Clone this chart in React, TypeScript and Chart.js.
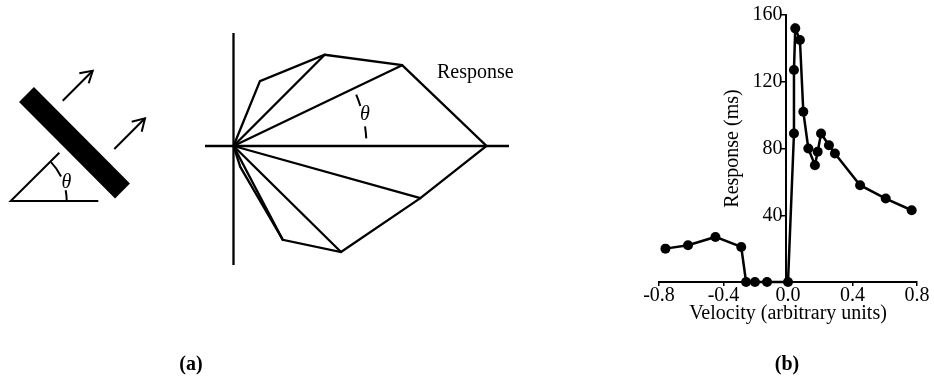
import React, { useEffect, useRef } from "react";
import { Chart, registerables } from "chart.js";

Chart.register(...registerables);

const FONT = "'Liberation Serif', 'Times New Roman', serif";

// ---------- Panel (b): response vs velocity ----------
const velocity = [-0.76, -0.62, -0.45, -0.29, -0.26, -0.205, -0.13, 0, 0.037, 0.037, 0.045, 0.074, 0.095, 0.126, 0.167, 0.184, 0.205, 0.254, 0.291, 0.447, 0.606, 0.767];
const responseMs = [20, 22, 27, 21, 0, 0, 0, 0, 89, 127, 152, 145, 102, 80, 70, 78, 89, 82, 77, 58, 50, 43];
const velocityTicks = [-0.8, -0.4, 0, 0.4, 0.8];
const responseTicks = [40, 80, 120, 160];
const xTitle = "Velocity (arbitrary units)";
const yTitle = "Response (ms)";

// ---------- Panel (a): diagram (figure units) ----------
// moving bar
const barX = [26.5, 122.5];
const barY = [94.5, 191];
// motion arrows (shaft + open head)
const arrow1X = [62.7, 92.7];
const arrow1Y = [100.7, 70.7];
const head1X = [79.3, 92.7, 88.7];
const head1Y = [73.3, 70.7, 83.3];
const arrow2X = [114.3, 145];
const arrow2Y = [149, 118.3];
const head2X = [131.7, 145, 141.7];
const head2Y = [121.7, 118.3, 131.7];
// orientation angle
const angleX = [98.3, 10.7, 59.3];
const angleY = [201, 201, 152.7];
// polar plot axes
const polarOrigin = [233.5, 146];
const vAxisY = [33, 265];
const hAxisX = [205, 509];
// polar response: direction (deg) and response length
const polarAngles = [90, 67.8, 45, 25.6, 0, -15.6, -44.6, -62.3, -72, -90];
const polarResponse = [0, 70, 129, 187, 253, 194, 151, 106, 22, 0];
const spokeIndex = [2, 3, 5, 6, 7];
// theta arcs
const arcCx = [10.7, 10.7, 233.5, 233.5];
const arcCy = [201, 201, 146, 146];
const arcR = [56, 56, 133, 133];
const arcFrom = [44, 11, 22.7, 8.5];
const arcTo = [26, 0, 17.5, 3.3];
// labels of panel (a)
const labelTextA = ["θ", "θ", "Response", "(a)"];
const labelXA = [66.5, 365, 437, 191];
const labelYA = [183, 114.5, 73, 365];
const labelStyleA = ["italic", "italic", "normal", "bold"];
const labelAlignA = ["center", "center", "left", "center"];

const pts = (xs: number[], ys: number[]) => xs.map((x, i) => ({ x, y: ys[i] }));

function polar(i: number) {
  const a = (polarAngles[i] * Math.PI) / 180;
  return {
    x: polarOrigin[0] + polarResponse[i] * Math.cos(a),
    y: polarOrigin[1] - polarResponse[i] * Math.sin(a),
  };
}

export default function App() {
  const refA = useRef<HTMLCanvasElement | null>(null);
  const refB = useRef<HTMLCanvasElement | null>(null);

  useEffect(() => {
    document.body.style.margin = "0";
    const lines: any[] = [];
    const add = (data: any[], w: number, cap = "butt", join = "miter") =>
      lines.push({
        data,
        showLine: true,
        borderColor: "#000",
        borderWidth: w,
        borderCapStyle: cap,
        borderJoinStyle: join,
        pointRadius: 0,
        tension: 0,
        fill: false,
        clip: false,
      });
    add(pts(barX, barY), 21);
    add(pts(arrow1X, arrow1Y), 2);
    add(pts(head1X, head1Y), 2);
    add(pts(arrow2X, arrow2Y), 2);
    add(pts(head2X, head2Y), 2);
    add(pts(angleX, angleY), 2);
    add(pts([polarOrigin[0], polarOrigin[0]], vAxisY), 2.3);
    add(pts(hAxisX, [polarOrigin[1], polarOrigin[1]]), 2.3);
    add(polarAngles.map((_, i) => polar(i)), 2.3, "round", "miter");
    spokeIndex.forEach((i) => add([{ x: polarOrigin[0], y: polarOrigin[1] }, polar(i)], 2.3, "round"));

    const diagramPlugin = {
      id: "diagramExtras",
      afterDatasetsDraw(chart: any) {
        const { ctx, scales } = chart;
        const sx = scales.x, sy = scales.y;
        ctx.save();
        ctx.strokeStyle = "#000";
        ctx.lineWidth = 2;
        arcCx.forEach((cx, i) => {
          const px = sx.getPixelForValue(cx);
          const py = sy.getPixelForValue(arcCy[i]);
          const r = sx.getPixelForValue(cx + arcR[i]) - px;
          ctx.beginPath();
          ctx.arc(px, py, r, (-arcFrom[i] * Math.PI) / 180, (-arcTo[i] * Math.PI) / 180, false);
          ctx.stroke();
        });
        ctx.fillStyle = "#000";
        ctx.textBaseline = "middle";
        labelTextA.forEach((t, i) => {
          ctx.font = `${labelStyleA[i]} 20px ${FONT}`;
          ctx.textAlign = labelAlignA[i];
          ctx.fillText(t, sx.getPixelForValue(labelXA[i]), sy.getPixelForValue(labelYA[i]));
        });
        ctx.restore();
      },
    };

    const chartA = new Chart(refA.current as HTMLCanvasElement, {
      type: "scatter",
      data: { datasets: lines },
      options: {
        responsive: false,
        animation: false,
        events: [],
        layout: { padding: 0 },
        plugins: { legend: { display: false }, tooltip: { enabled: false } },
        scales: {
          x: { type: "linear", min: 0, max: 600, display: false },
          y: { type: "linear", min: 0, max: 378, reverse: true, display: false },
        },
      },
      plugins: [diagramPlugin],
    } as any);

    const bPlugin = {
      id: "panelBText",
      afterDraw(chart: any) {
        const { ctx, scales, chartArea } = chart;
        const x0 = scales.x.getPixelForValue(0);
        ctx.save();
        ctx.fillStyle = "#000";
        ctx.textAlign = "center";
        ctx.textBaseline = "middle";
        ctx.font = `20px ${FONT}`;
        ctx.translate(x0 - 55, (chartArea.top + chartArea.bottom) / 2);
        ctx.rotate(-Math.PI / 2);
        ctx.fillText(yTitle, 0, 0);
        ctx.restore();
        ctx.save();
        ctx.fillStyle = "#000";
        ctx.textAlign = "center";
        ctx.textBaseline = "middle";
        ctx.font = `bold 20px ${FONT}`;
        ctx.fillText("(b)", x0 - 1, 365);
        ctx.restore();
      },
    };

    const axisGrid = {
      display: true,
      drawOnChartArea: false,
      drawTicks: true,
      tickLength: 4,
      color: "#000",
      lineWidth: 1.5,
    };
    const setResponseTicks = (s: any) => {
      s.ticks = responseTicks.map((v) => ({ value: v }));
    };

    const chartB = new Chart(refB.current as HTMLCanvasElement, {
      type: "scatter",
      data: {
        datasets: [
          {
            data: pts(velocity, responseMs),
            showLine: true,
            borderColor: "#000",
            borderWidth: 2.5,
            pointRadius: 5,
            pointBackgroundColor: "#000",
            pointBorderColor: "#000",
            pointBorderWidth: 0,
            tension: 0,
            fill: false,
            clip: false,
          },
        ],
      },
      options: {
        responsive: false,
        animation: false,
        events: [],
        layout: { padding: { left: 59, right: 17, top: 15, bottom: 0 } },
        plugins: { legend: { display: false }, tooltip: { enabled: false } },
        scales: {
          x: {
            type: "linear",
            position: "bottom",
            min: -0.8,
            max: 0.8,
            afterBuildTicks: (s: any) => {
              s.ticks = velocityTicks.map((v) => ({ value: v }));
            },
            afterFit: (s: any) => {
              s.height = 96;
            },
            grid: axisGrid,
            border: { display: true, color: "#000", width: 2 },
            ticks: {
              color: "#000",
              font: { family: FONT, size: 20, lineHeight: 1 },
              padding: 0,
              maxRotation: 0,
              autoSkip: false,
              callback: (v: any) => Number(v).toFixed(1),
            },
            title: {
              display: true,
              text: xTitle,
              color: "#000",
              font: { family: FONT, size: 20, lineHeight: 1.2 },
              padding: { top: 0, bottom: 52.5 },
            },
          },
          y: {
            type: "linear",
            position: { x: -0.012 },
            min: 0,
            max: 160,
            afterBuildTicks: setResponseTicks,
            grid: { ...axisGrid, tickLength: 5 },
            border: { display: true, color: "#000", width: 2 },
            ticks: { display: false, autoSkip: false },
          },
          yLabels: {
            type: "linear",
            axis: "y",
            position: { x: -0.034 },
            min: 0,
            max: 160,
            afterBuildTicks: setResponseTicks,
            grid: { display: false },
            border: { display: false },
            ticks: {
              color: "#000",
              font: { family: FONT, size: 20, lineHeight: 1 },
              autoSkip: false,
            },
          },
        },
      },
      plugins: [bPlugin],
    } as any);

    return () => {
      chartA.destroy();
      chartB.destroy();
    };
  }, []);

  return (
    <div style={{ position: "fixed", left: 0, top: 0, width: 934, height: 378, background: "#fff" }}>
      <canvas ref={refA} width={600} height={378} style={{ position: "absolute", left: 0, top: 0 }} />
      <canvas ref={refB} width={334} height={378} style={{ position: "absolute", left: 600, top: 0 }} />
    </div>
  );
}
